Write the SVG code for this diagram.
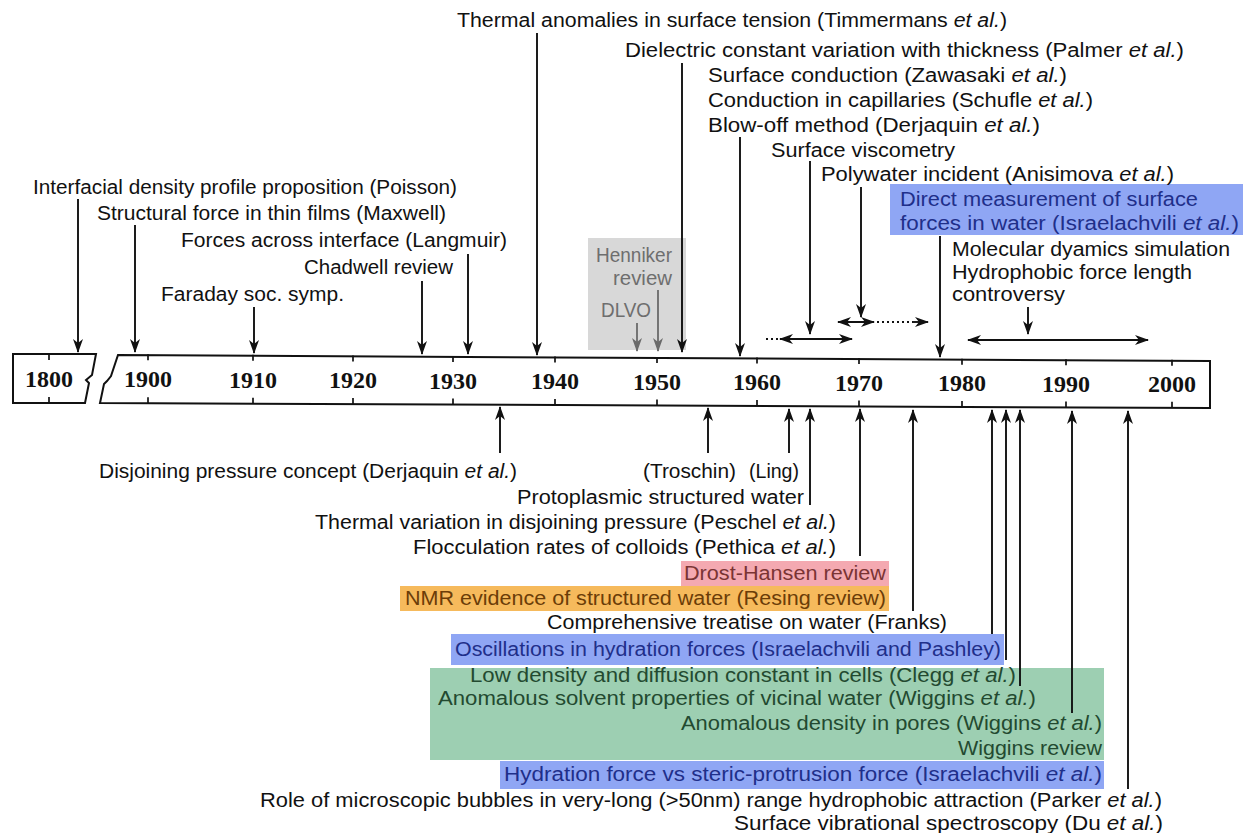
<svg xmlns="http://www.w3.org/2000/svg" width="1247" height="833" viewBox="0 0 1247 833">
<defs>
<style>
.t{font-family:"Liberation Sans",Arial,sans-serif;font-size:19.5px;fill:#111;}
.i{font-style:italic;}
.yr{font-family:"Liberation Serif","Times New Roman",serif;font-weight:bold;font-size:24px;fill:#111;text-anchor:middle;}
.ln{stroke:#111;stroke-width:1.9;fill:none;}
.gl{stroke:#707070;stroke-width:1.9;fill:none;}
.dot{stroke-dasharray:2 3;}
.ax{stroke:#111;stroke-width:2;fill:#fff;}
.tk{stroke:#111;stroke-width:1.7;}
.blue{fill:#8fa6f4;}
.green{fill:#9dcfb2;}
.pink{fill:#f4a9b1;}
.orange{fill:#f6ba5c;}
.grey{fill:#d8d8d8;}
.tb{fill:#1f2f8a;}
.tg{fill:#234a30;}
.tp{fill:#7a3434;}
.to{fill:#6b3d08;}
.tgr{fill:#6e6e6e;}
</style>
<marker id="ah" viewBox="0 0 14 11" refX="13" refY="5.5" markerWidth="14" markerHeight="11" markerUnits="userSpaceOnUse" orient="auto-start-reverse">
<path d="M0,0.5 L14,5.5 L0,10.5 L4,5.5 z" fill="#111"/>
</marker>
<marker id="ahg" viewBox="0 0 14 11" refX="13" refY="5.5" markerWidth="14" markerHeight="11" markerUnits="userSpaceOnUse" orient="auto-start-reverse">
<path d="M0,0.5 L14,5.5 L0,10.5 L4,5.5 z" fill="#6a6a6a"/>
</marker>
</defs>
<rect width="1247" height="833" fill="#fff"/>

<g id="highlights">
<rect class="grey" x="588" y="238" width="98" height="112"/>
<rect class="blue" x="890" y="184" width="353" height="51"/>
<rect class="pink" x="681" y="561" width="208" height="25"/>
<rect class="orange" x="400" y="586" width="489" height="25"/>
<rect class="blue" x="451" y="634" width="553" height="31"/>
<rect class="green" x="430" y="668" width="674" height="92"/>
<rect class="blue" x="500" y="761" width="604" height="28"/>
</g>

<g id="timeline">
<path class="ax" d="M13,354 L96,354 L92,375 L86,380 L89,383 L85,403 L13,403 Z"/>
<path class="ax" d="M118,355 L1210,361 L1210,408 L100,403 L104,384 L107,381 L111,376 Z"/>
<g class="tk">
<line x1="49" y1="354" x2="49" y2="360"/><line x1="49" y1="397" x2="49" y2="403"/>
<line x1="148" y1="354.3" x2="148" y2="360.3"/><line x1="148" y1="397.2" x2="148" y2="403.2"/>
<line x1="253" y1="354.8" x2="253" y2="360.8"/><line x1="253" y1="397.7" x2="253" y2="403.7"/>
<line x1="353" y1="355.4" x2="353" y2="361.4"/><line x1="353" y1="398.1" x2="353" y2="404.1"/>
<line x1="453" y1="355.9" x2="453" y2="361.9"/><line x1="453" y1="398.6" x2="453" y2="404.6"/>
<line x1="555" y1="356.5" x2="555" y2="362.5"/><line x1="555" y1="399" x2="555" y2="405"/>
<line x1="657" y1="357" x2="657" y2="363"/><line x1="657" y1="399.5" x2="657" y2="405.5"/>
<line x1="757" y1="357.6" x2="757" y2="363.6"/><line x1="757" y1="400" x2="757" y2="406"/>
<line x1="859" y1="358.1" x2="859" y2="364.1"/><line x1="859" y1="400.4" x2="859" y2="406.4"/>
<line x1="962" y1="358.7" x2="962" y2="364.7"/><line x1="962" y1="400.9" x2="962" y2="406.9"/>
<line x1="1066" y1="359.2" x2="1066" y2="365.2"/><line x1="1066" y1="401.4" x2="1066" y2="407.4"/>
<line x1="1172" y1="359.8" x2="1172" y2="365.8"/><line x1="1172" y1="401.8" x2="1172" y2="407.8"/>
</g>
<text class="yr" x="49" y="387">1800</text>
<text class="yr" x="148" y="387.4">1900</text>
<text class="yr" x="253" y="387.9">1910</text>
<text class="yr" x="353" y="388.4">1920</text>
<text class="yr" x="453" y="388.8">1930</text>
<text class="yr" x="555" y="389.3">1940</text>
<text class="yr" x="657" y="389.7">1950</text>
<text class="yr" x="757" y="390.1">1960</text>
<text class="yr" x="859" y="390.6">1970</text>
<text class="yr" x="962" y="391.1">1980</text>
<text class="yr" x="1066" y="391.5">1990</text>
<text class="yr" x="1172" y="392">2000</text>
</g>

<g id="connectors">
<g marker-end="url(#ah)">
<line class="ln" x1="78" y1="199" x2="78" y2="352"/>
<line class="ln" x1="135" y1="225" x2="135" y2="352"/>
<line class="ln" x1="254" y1="307" x2="254" y2="353"/>
<line class="ln" x1="422" y1="281" x2="422" y2="354"/>
<line class="ln" x1="468" y1="254" x2="468" y2="354"/>
<line class="ln" x1="537" y1="33" x2="537" y2="355"/>
<line class="ln" x1="682" y1="63" x2="682" y2="352"/>
<line class="ln" x1="740" y1="137" x2="740" y2="356"/>
<line class="ln" x1="810" y1="161" x2="810" y2="334"/>
<line class="ln" x1="861" y1="187" x2="861" y2="317"/>
<line class="ln" x1="940" y1="236" x2="940" y2="357"/>
<line class="ln" x1="1028" y1="307" x2="1028" y2="334"/>
</g>
<g marker-end="url(#ahg)">
<line class="gl" x1="637" y1="323" x2="637" y2="351"/>
<line class="gl" x1="658" y1="290" x2="658" y2="351"/>
</g>
<line class="ln dot" x1="766" y1="339" x2="779" y2="339"/>
<line class="ln" x1="780" y1="339" x2="852" y2="339" marker-start="url(#ah)" marker-end="url(#ah)"/>
<line class="ln" x1="838" y1="322" x2="874" y2="322" marker-start="url(#ah)" marker-end="url(#ah)"/>
<line class="ln dot" x1="877" y1="322" x2="913" y2="322"/>
<line class="ln" x1="913" y1="322" x2="928" y2="322" marker-end="url(#ah)"/>
<line class="ln" x1="968" y1="340" x2="1148" y2="340" marker-start="url(#ah)" marker-end="url(#ah)"/>
<g marker-end="url(#ah)">
<line class="ln" x1="500" y1="453" x2="500" y2="407"/>
<line class="ln" x1="708" y1="453" x2="708" y2="408"/>
<line class="ln" x1="789" y1="453" x2="789" y2="409"/>
<line class="ln" x1="810" y1="505" x2="810" y2="409"/>
<line class="ln" x1="860" y1="556" x2="860" y2="409"/>
<line class="ln" x1="913" y1="611" x2="913" y2="410"/>
<line class="ln" x1="992" y1="634" x2="992" y2="410"/>
<line class="ln" x1="1006" y1="660" x2="1006" y2="410"/>
<line class="ln" x1="1020" y1="686" x2="1020" y2="410"/>
<line class="ln" x1="1072" y1="713" x2="1072" y2="411"/>
<line class="ln" x1="1128" y1="789" x2="1128" y2="411"/>
</g>
</g>

<g id="timmermans"><text class="t" x="457" y="27" textLength="550" lengthAdjust="spacingAndGlyphs">Thermal anomalies in surface tension (Timmermans <tspan class="i">et al.</tspan>)</text></g>
<g id="palmer"><text class="t" x="625" y="57" textLength="559" lengthAdjust="spacingAndGlyphs">Dielectric constant variation with thickness (Palmer <tspan class="i">et al.</tspan>)</text></g>
<g id="zawasaki"><text class="t" x="708" y="82" textLength="359" lengthAdjust="spacingAndGlyphs">Surface conduction (Zawasaki <tspan class="i">et al.</tspan>)</text></g>
<g id="schufle"><text class="t" x="708" y="107" textLength="385" lengthAdjust="spacingAndGlyphs">Conduction in capillaries (Schufle <tspan class="i">et al.</tspan>)</text></g>
<g id="blowoff"><text class="t" x="708" y="132" textLength="332" lengthAdjust="spacingAndGlyphs">Blow-off method (Derjaquin <tspan class="i">et al.</tspan>)</text></g>
<g id="viscometry"><text class="t" x="771" y="157" textLength="184" lengthAdjust="spacingAndGlyphs">Surface viscometry</text></g>
<g id="polywater"><text class="t" x="821" y="181" textLength="353" lengthAdjust="spacingAndGlyphs">Polywater incident (Anisimova <tspan class="i">et al.</tspan>)</text></g>
<g id="direct">
<text class="t tb" x="900" y="206" textLength="298" lengthAdjust="spacingAndGlyphs">Direct measurement of surface</text>
<text class="t tb" x="900" y="230" textLength="339" lengthAdjust="spacingAndGlyphs">forces in water (Israelachvili <tspan class="i">et al.</tspan>)</text>
</g>
<g id="molecular">
<text class="t" x="952" y="256" textLength="278" lengthAdjust="spacingAndGlyphs">Molecular dyamics simulation</text>
<text class="t" x="952" y="279" textLength="240" lengthAdjust="spacingAndGlyphs">Hydrophobic force length</text>
<text class="t" x="952" y="301" textLength="113" lengthAdjust="spacingAndGlyphs">controversy</text>
</g>
<g id="poisson"><text class="t" x="33" y="194" textLength="424" lengthAdjust="spacingAndGlyphs">Interfacial density profile proposition (Poisson)</text></g>
<g id="maxwell"><text class="t" x="97" y="220" textLength="349" lengthAdjust="spacingAndGlyphs">Structural force in thin films (Maxwell)</text></g>
<g id="langmuir"><text class="t" x="181" y="247" textLength="326" lengthAdjust="spacingAndGlyphs">Forces across interface (Langmuir)</text></g>
<g id="chadwell"><text class="t" x="304" y="274" textLength="149" lengthAdjust="spacingAndGlyphs">Chadwell review</text></g>
<g id="faraday"><text class="t" x="161" y="301" textLength="183" lengthAdjust="spacingAndGlyphs">Faraday soc. symp.</text></g>
<g id="henniker">
<text class="t tgr" x="596" y="262" textLength="76" lengthAdjust="spacingAndGlyphs">Henniker</text>
<text class="t tgr" x="613" y="285" textLength="59" lengthAdjust="spacingAndGlyphs">review</text>
</g>
<g id="dlvo"><text class="t tgr" x="601" y="317" textLength="50" lengthAdjust="spacingAndGlyphs">DLVO</text></g>

<g id="disjoining"><text class="t" x="99" y="478" textLength="418" lengthAdjust="spacingAndGlyphs">Disjoining pressure concept (Derjaquin <tspan class="i">et al.</tspan>)</text></g>
<g id="troschin"><text class="t" x="643" y="478" textLength="93" lengthAdjust="spacingAndGlyphs">(Troschin)</text></g>
<g id="ling"><text class="t" x="749" y="478" textLength="50" lengthAdjust="spacingAndGlyphs">(Ling)</text></g>
<g id="protoplasmic"><text class="t" x="517" y="504" textLength="287" lengthAdjust="spacingAndGlyphs">Protoplasmic structured water</text></g>
<g id="peschel"><text class="t" x="315" y="529" textLength="521" lengthAdjust="spacingAndGlyphs">Thermal variation in disjoining pressure (Peschel <tspan class="i">et al.</tspan>)</text></g>
<g id="pethica"><text class="t" x="413" y="554" textLength="423" lengthAdjust="spacingAndGlyphs">Flocculation rates of colloids (Pethica <tspan class="i">et al.</tspan>)</text></g>
<g id="drosthansen"><text class="t tp" x="684" y="580" textLength="202" lengthAdjust="spacingAndGlyphs">Drost-Hansen review</text></g>
<g id="nmr"><text class="t to" x="405" y="605" textLength="481" lengthAdjust="spacingAndGlyphs">NMR evidence of structured water (Resing review)</text></g>
<g id="franks"><text class="t" x="547" y="629" textLength="400" lengthAdjust="spacingAndGlyphs">Comprehensive treatise on water (Franks)</text></g>
<g id="oscillations"><text class="t tb" x="455" y="656" textLength="546" lengthAdjust="spacingAndGlyphs">Oscillations in hydration forces (Israelachvili and Pashley)</text></g>
<g id="clegg"><text class="t tg" x="470" y="682" textLength="546" lengthAdjust="spacingAndGlyphs">Low density and diffusion constant in cells (Clegg <tspan class="i">et al.</tspan>)</text></g>
<g id="wiggins1"><text class="t tg" x="438" y="705" textLength="598" lengthAdjust="spacingAndGlyphs">Anomalous solvent properties of vicinal water (Wiggins <tspan class="i">et al.</tspan>)</text></g>
<g id="wiggins2"><text class="t tg" x="681" y="730" textLength="421" lengthAdjust="spacingAndGlyphs">Anomalous density in pores (Wiggins <tspan class="i">et al.</tspan>)</text></g>
<g id="wigginsreview"><text class="t tg" x="958" y="755" textLength="144" lengthAdjust="spacingAndGlyphs">Wiggins review</text></g>
<g id="hydration"><text class="t tb" x="504" y="781" textLength="598" lengthAdjust="spacingAndGlyphs">Hydration force vs steric-protrusion force (Israelachvili <tspan class="i">et al.</tspan>)</text></g>
<g id="parker"><text class="t" x="260" y="807" textLength="902" lengthAdjust="spacingAndGlyphs">Role of microscopic bubbles in very-long (&gt;50nm) range hydrophobic attraction (Parker <tspan class="i">et al.</tspan>)</text></g>
<g id="du"><text class="t" x="734" y="830" textLength="429" lengthAdjust="spacingAndGlyphs">Surface vibrational spectroscopy (Du <tspan class="i">et al.</tspan>)</text></g>
</svg>
